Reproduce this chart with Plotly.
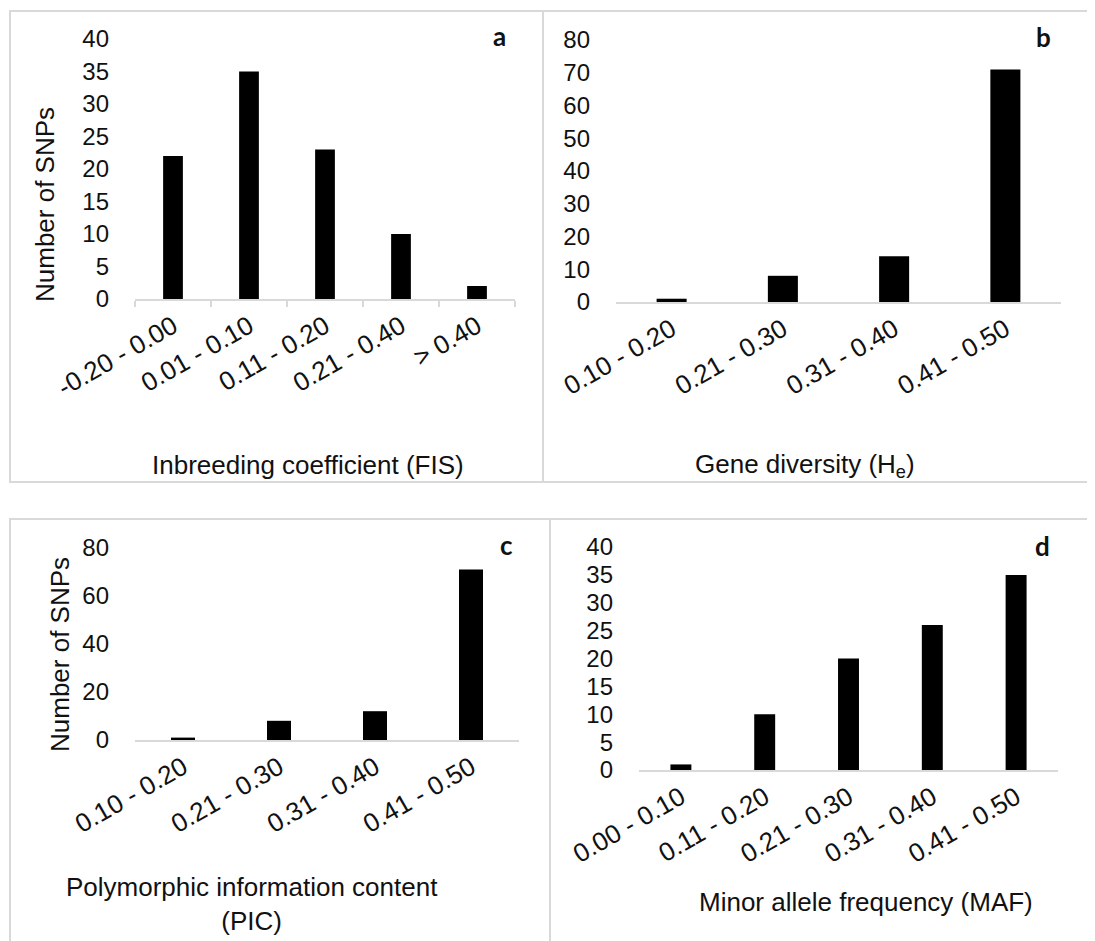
import plotly.graph_objects as go

# ---------------- data ----------------
cats_a = ["-0.20 - 0.00", "0.01 - 0.10", "0.11 - 0.20", "0.21 - 0.40", "> 0.40"]
vals_a = [22, 35, 23, 10, 2]

cats_b = ["0.10 - 0.20", "0.21 - 0.30", "0.31 - 0.40", "0.41 - 0.50"]
vals_b = [1, 8, 14, 71]

cats_c = ["0.10 - 0.20", "0.21 - 0.30", "0.31 - 0.40", "0.41 - 0.50"]
vals_c = [1, 8, 12, 71]

cats_d = ["0.00 - 0.10", "0.11 - 0.20", "0.21 - 0.30", "0.31 - 0.40", "0.41 - 0.50"]
vals_d = [1, 10, 20, 26, 35]

title_a = "Inbreeding coefficient (FIS)"
title_b = "Gene diversity (H<sub>e</sub>)"
title_c = "Polymorphic information content<br>(PIC)"
title_d = "Minor allele frequency (MAF)"
ylabel = "Number of SNPs"

# ---------------- layout helpers ----------------
OFF = 8                      # page body margin
W, H = 1095 - OFF, 941 - OFF
FONT = "Liberation Sans"
GREY = "#d9d9d9"


def fx(px):
    return (px - OFF) / W


def fy(py):
    return 1 - (py - OFF) / H


fig = go.Figure()

panels = [
    # cats, vals, x0, x1, ytop, ybot, ymax, dtick, barwidth, ticks
    (cats_a, vals_a, 135, 515, 39, 299, 40, 5, 0.26, True),
    (cats_b, vals_b, 616, 1061, 40, 302, 80, 10, 0.27, False),
    (cats_c, vals_c, 135, 519, 548, 740, 80, 20, 0.25, False),
    (cats_d, vals_d, 639, 1058, 547, 770, 40, 5, 0.25, False),
]

layout = {}
for i, (cats, vals, x0, x1, yt, yb, ymax, dt, bw, ticks) in enumerate(panels, start=1):
    sx = "" if i == 1 else str(i)
    fig.add_trace(go.Bar(
        x=cats, y=vals, width=bw,
        marker=dict(color="black", line=dict(width=0)),
        xaxis="x" + sx, yaxis="y" + sx, showlegend=False,
    ))
    layout["xaxis" + sx] = dict(
        domain=[fx(x0), fx(x1)], anchor="y" + sx, automargin=False,
        type="category", range=[-0.5, len(cats) - 0.5],
        showline=True, linecolor=GREY, linewidth=2,
        showgrid=False, zeroline=False,
        ticks="outside" if ticks else "", tickson="boundaries" if ticks else "labels",
        ticklen=6, tickcolor=GREY, tickwidth=2,
        tickangle=-30,
        tickfont=dict(family=FONT, size=26, color="#111111"),
        fixedrange=True,
    )
    layout["yaxis" + sx] = dict(
        domain=[fy(yb), fy(yt)], anchor="x" + sx, automargin=False,
        range=[0, ymax], dtick=dt, tick0=0,
        showline=False, showgrid=False, zeroline=False,
        ticks="", ticklabelstandoff=25,
        tickfont=dict(family=FONT, size=24, color="#111111"),
        fixedrange=True,
    )

annotations = []


def ann(text, x, y, size=26, bold=False, angle=0, family=FONT):
    annotations.append(dict(
        text=text, x=fx(x), y=fy(y), xref="paper", yref="paper",
        showarrow=False, textangle=angle, xanchor="center", yanchor="middle",
        font=dict(family=family, size=size, color="#111111",
                  weight="bold" if bold else "normal"),
    ))


ann(title_a, 308, 465)
ann(title_b, 805, 465)
ann(title_c, 252, 904)
ann(title_d, 866, 902)
ann(ylabel, 45, 205, angle=-90)
ann(ylabel, 60, 655, angle=-90)
ann("a", 499, 36, size=26, bold=True, family="Lato")
ann("b", 1043, 37, size=26, bold=True, family="Lato")
ann("c", 506, 545, size=26, bold=True, family="Lato")
ann("d", 1042, 546, size=26, bold=True, family="Lato")

shapes = []
for (x0, y0, x1, y1) in [(10, 11, 543, 482), (543, 11, 1091, 482),
                         (10, 519, 550, 960), (550, 519, 1092, 960)]:
    shapes.append(dict(type="rect", xref="paper", yref="paper",
                       x0=fx(x0), x1=fx(x1), y0=fy(y1), y1=fy(y0),
                       line=dict(color=GREY, width=2), layer="below"))

fig.update_layout(
    width=W, height=H,
    margin=dict(l=0, r=0, t=0, b=0, autoexpand=False),
    paper_bgcolor="white", plot_bgcolor="white",
    annotations=annotations, shapes=shapes,
    bargap=0.5,
    **layout,
)

fig.write_html("out.html")
